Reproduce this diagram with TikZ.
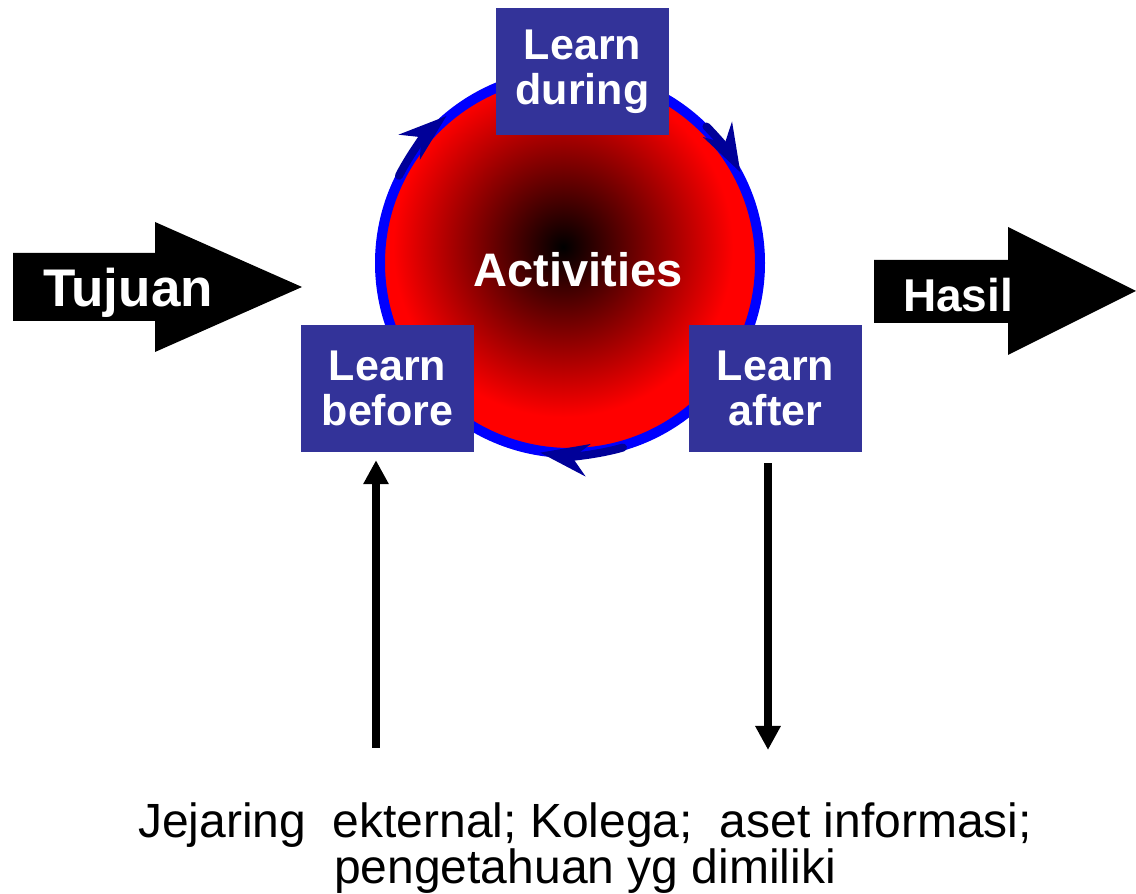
\documentclass[tikz,border=0pt]{standalone}
\usepackage{fontspec}
\setmainfont{Liberation Sans}
\usetikzlibrary{arrows.meta, calc}
\definecolor{phase}{RGB}{51, 51, 153}
\definecolor{ringblue}{RGB}{0, 0, 255}
\definecolor{cyclearc}{RGB}{0, 0, 153}
\tikzstyle{phasebox} = [rectangle, minimum width=173pt, minimum height=127pt, inner sep=0pt, fill=phase, text=white, align=center, font=\fontsize{43}{45}\selectfont\bfseries]
\tikzstyle{bigarrow} = [fill=black]
\tikzstyle{flow} = [line width=8pt, -{Triangle[width=24pt, length=24pt]}]
\tikzstyle{cyclearrow} = [draw=cyclearc, line width=8pt, line cap=round, -{Stealth[length=48pt, width=32pt, inset=15pt]}]

\begin{document}
\begin{tikzpicture}[x=1pt, y=1pt]
    \useasboundingbox (0,0) rectangle (1136,894);

    % Activities circle
    \coordinate (act) at (570,631);
    \begin{scope}
        \clip (act) circle (190pt);
        \fill[red] (act) circle (190pt);
        \shade[inner color=black, outer color=red] ($(act)+(-7,16)$) circle (170pt);
    \end{scope}
    \draw[ringblue, line width=10pt] (act) circle (190pt);
    \node[text=white, font=\fontsize{47}{47}\selectfont\bfseries, anchor=base] (actlabel) at (578,607) {Activities};

    % Cycle arrows on the ring
    \draw[cyclearrow] ($(act)+(153:192pt)$) arc[start angle=153, end angle=130, radius=192pt];
    \draw[cyclearrow] ($(act)+(45:193pt)$) arc[start angle=45, end angle=28, radius=193pt];
    \draw[cyclearrow] ($(act)+(-74:192pt)$) arc[start angle=-74, end angle=-99, radius=192pt];

    % Learning phases
    \node[phasebox] (during) at (582.5,822.5) {Learn\\during};
    \node[phasebox] (before) at (387.5,505.5) {Learn\\before};
    \node[phasebox] (after) at (775.5,505.5) {Learn\\after};

    % Goal and result
    \fill[bigarrow] (13,641) -- (155,641) -- (155,672) -- (302,607) -- (155,542) -- (155,573) -- (13,573) -- cycle;
    \node[text=white, font=\fontsize{53}{53}\selectfont\bfseries, anchor=base] (tujuan) at (128,587) {Tujuan};
    \fill[bigarrow] (874,634) -- (1008,634) -- (1008,667) -- (1136,603) -- (1008,539) -- (1008,571) -- (874,571) -- cycle;
    \node[text=white, font=\fontsize{46}{46}\selectfont\bfseries, anchor=base] (hasil) at (958,582) {Hasil};

    % Knowledge sources
    \node[font=\fontsize{48}{46}\selectfont, align=center, inner sep=0pt] (sources) at (585,45.5) {Jejaring\ \ ekternal; Kolega;\ \ aset informasi;\\pengetahuan yg dimiliki};
    \coordinate (srcin) at (376,146);
    \coordinate (srcout) at (768,144);
    \draw[flow, shorten >=8pt] (srcin) -- (before.south -| srcin);
    \draw[flow, shorten <=11pt] (after.south -| srcout) -- (srcout);
\end{tikzpicture}
\end{document}
